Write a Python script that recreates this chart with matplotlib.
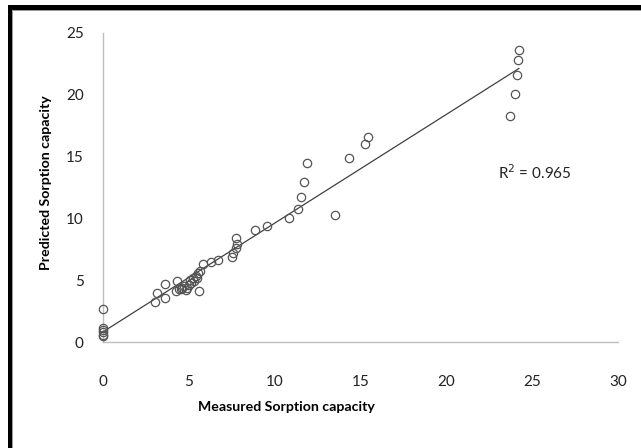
import matplotlib.pyplot as plt
import numpy as np
from matplotlib.patches import Rectangle

# measured vs predicted sorption capacity
measured = [
    0, 0, 0, 0, 0, 0,
    3.0, 3.12, 3.6, 3.63, 4.29, 4.25, 4.4, 4.55, 4.6, 4.7, 4.9, 4.85,
    5.0, 5.07, 5.15, 5.26, 5.3, 5.42, 5.5, 5.55, 5.65, 5.59, 5.8,
    6.27, 6.68, 7.49, 7.59, 7.72, 7.78, 7.72, 8.85, 9.53, 10.83,
    11.34, 11.53, 11.73, 11.86, 13.51, 14.33, 15.26, 15.45,
    23.7, 23.99, 24.13, 24.17, 24.23,
]
predicted = [
    2.67, 1.1, 0.95, 0.8, 0.6, 0.45,
    3.2, 4.0, 3.55, 4.7, 4.95, 4.15, 4.25, 4.3, 4.35, 4.5, 4.4, 4.2,
    4.6, 5.0, 4.8, 5.15, 4.95, 5.35, 5.2, 5.55, 5.75, 4.15, 6.3,
    6.45, 6.65, 6.9, 7.2, 7.6, 7.95, 8.45, 9.1, 9.4, 10.0,
    10.75, 11.7, 12.95, 14.5, 10.25, 14.9, 16.0, 16.55,
    18.3, 20.05, 21.6, 22.8, 23.6,
]
r2_label = "R$^2$ = 0.965"

plt.rcParams["font.family"] = ["Lato", "DejaVu Sans"]

W, H = 641, 448
fig = plt.figure(figsize=(W / 100, H / 100), dpi=100)
fig.patch.set_facecolor("white")

ax = fig.add_axes([103 / W, 106 / H, 515 / W, 309 / H])

x = np.array(measured)
y = np.array(predicted)
slope, intercept = np.polyfit(x, y, 1)
xs = np.array([x.min(), x.max()])
ax.plot(xs, slope * xs + intercept, color="#404040", linewidth=0.9, zorder=2)

ax.plot(
    x, y, "o",
    markerfacecolor="none", markeredgecolor="#555555",
    markersize=6, markeredgewidth=0.9, zorder=3, clip_on=False,
)

ax.set_xlim(0, 30)
ax.set_ylim(0, 25)
ax.set_xticks(range(0, 31, 5))
ax.set_yticks(range(0, 26, 5))
ax.tick_params(length=0, labelsize=11, colors="#222222")
ax.tick_params(axis="x", pad=24)
ax.tick_params(axis="y", pad=14)
for side in ("top", "right"):
    ax.spines[side].set_visible(False)
for side in ("left", "bottom"):
    ax.spines[side].set_color("#bdbdbd")
    ax.spines[side].set_linewidth(1.0)

ax.text(498 / W, (H - 173) / H, r2_label, transform=fig.transFigure,
        fontsize=11, color="#222222", va="center", ha="left")

fig.text(286 / W, (H - 407) / H, "Measured Sorption capacity",
         fontsize=10.2, fontweight="bold", ha="center", va="center")
fig.text(46 / W, (H - 183) / H, "Predicted Sorption capacity",
         fontsize=10.2, fontweight="bold", ha="center", va="center", rotation=90)

# frame: black band on top and left, thin grey line inside it
fig.add_artist(Rectangle((8 / W, 0), 4 / W, (H - 5) / H, transform=fig.transFigure,
                         facecolor="black", edgecolor="none"))
fig.add_artist(Rectangle((8 / W, (H - 10) / H), (W - 8) / W, 5 / H,
                         transform=fig.transFigure, facecolor="black", edgecolor="none"))
fig.add_artist(Rectangle((12 / W, 0), 1.2 / W, (H - 10) / H, transform=fig.transFigure,
                         facecolor="#9a9a9a", edgecolor="none"))
fig.add_artist(Rectangle((12 / W, (H - 11.5) / H), (W - 12) / W, 1.5 / H,
                         transform=fig.transFigure, facecolor="#9a9a9a", edgecolor="none"))

fig.savefig("out.png", dpi=100)
